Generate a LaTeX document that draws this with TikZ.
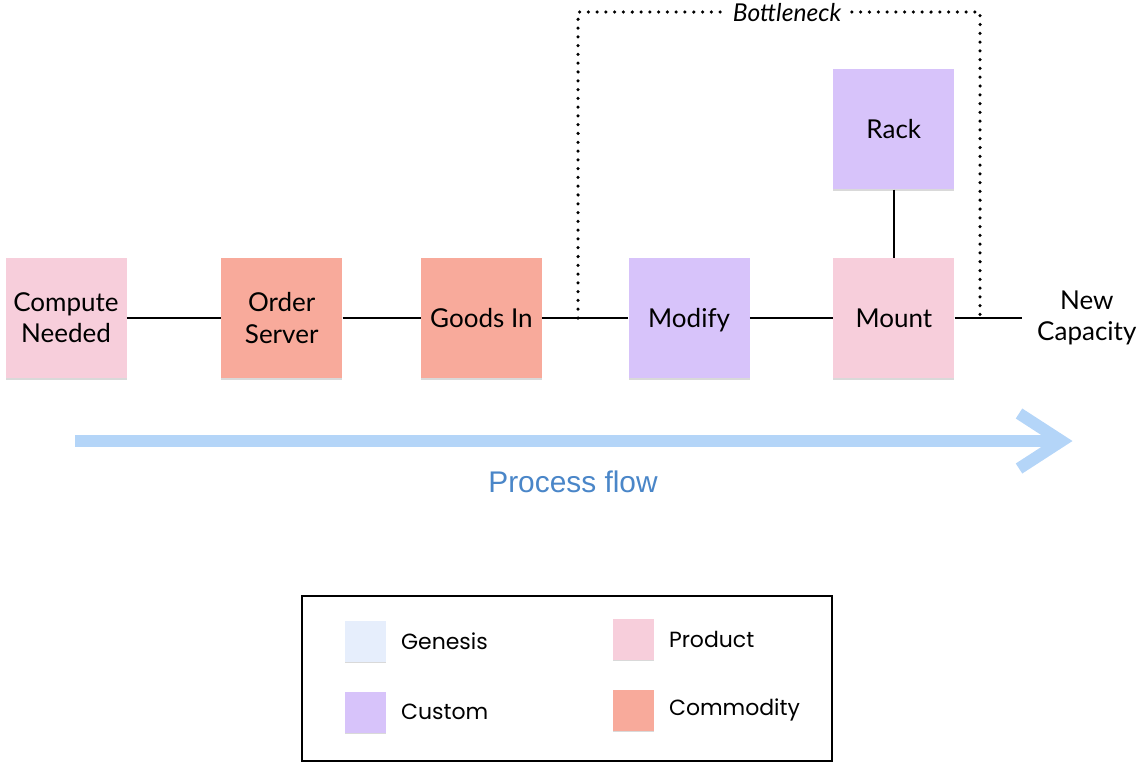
\documentclass[tikz,border=0pt]{standalone}
\usepackage{fontspec}
\setmainfont{Lato}
\newfontfamily\flowfont{Liberation Sans}
\newfontfamily\legendfont{Poppins}
\usepackage{tikz}
\usetikzlibrary{positioning,arrows.meta,shadows}
\definecolor{productPink}{RGB}{247,206,219}
\definecolor{commodityRed}{RGB}{248,170,155}
\definecolor{customPurple}{RGB}{215,195,250}
\definecolor{genesisBlue}{RGB}{230,238,252}
\definecolor{flowBlue}{RGB}{180,213,248}
\definecolor{flowText}{RGB}{74,134,200}

\begin{document}
\begin{tikzpicture}[every node/.style={align=center},
        stage/.style={minimum width=2.42cm, minimum height=2.4cm, inner sep=0pt,
            font=\fontsize{14.8}{17.8}\selectfont,
            drop shadow={shadow xshift=0pt, shadow yshift=-1pt, opacity=0.3}},
        key/.style={minimum width=0.82cm, minimum height=0.82cm, inner sep=0pt,
            drop shadow={shadow xshift=0pt, shadow yshift=-0.8pt, opacity=0.3}},
        keylabel/.style={font=\legendfont\fontsize{12.5}{15}\selectfont},
        link/.style={line width=0.8pt},
        bottleneck/.style={line width=2pt, dash pattern=on 0pt off 5pt, line cap=round}]
        \useasboundingbox (0,0) rectangle (22.78,-15.26);

        % value chain
        \node[stage, fill=productPink] (compute) at (1.32,-6.36) {Compute\\Needed};
        \node[stage, fill=commodityRed, right=1.88cm of compute] (order) {Order\\Server};
        \node[stage, fill=commodityRed, right=1.56cm of order] (goods) {Goods In};
        \node[stage, fill=customPurple, text depth=0pt, right=1.72cm of goods] (modify) {Modify};
        \node[stage, fill=productPink, right=1.66cm of modify] (mount) {Mount};
        \node[stage, fill=customPurple, above=1.36cm of mount] (rack) {Rack};
        \coordinate (capEnd) at (20.44,-6.36);
        \node[anchor=west, font=\fontsize{14.8}{17.8}\selectfont] (newcap) at (20.62,-6.36) {New\\Capacity};

        \draw[link] (compute) -- (order);
        \draw[link] (order) -- (goods);
        \draw[link] (goods) -- (modify);
        \draw[link] (modify) -- (mount);
        \draw[link] (rack) -- (mount);
        \draw[link] (mount) -- (capEnd);

        % bottleneck bracket
        \coordinate (bnLeft) at (11.56,-6.36);
        \coordinate (bnRight) at (19.6,-6.36);
        \draw[bottleneck] (bnLeft) -- (11.56,-0.24) -- (19.6,-0.24) -- (bnRight);
        \node[fill=white, inner sep=4pt, font=\itshape\fontsize{14}{16}\selectfont] (bnlabel) at (15.74,-0.26) {Bottleneck};

        % process flow
        \coordinate (flowStart) at (1.5,-8.82);
        \coordinate (flowEnd) at (21.45,-8.82);
        \draw[flowBlue, line width=6.8pt, -{Straight Barb[length=0.85cm, width=1.1cm]}] (flowStart) -- (flowEnd);
        \node[text=flowText, font=\flowfont\fontsize{17}{20}\selectfont] (flowlabel) at (11.46,-9.64) {Process flow};

        % legend
        \draw[line width=0.85pt] (6.04,-11.92) rectangle (16.64,-15.22);
        \node[key, fill=genesisBlue] (kgen) at (7.3,-12.82) {};
        \node[key, fill=productPink] (kprod) at (12.66,-12.78) {};
        \node[key, fill=customPurple] (kcust) at (7.3,-14.24) {};
        \node[key, fill=commodityRed] (kcomm) at (12.66,-14.2) {};
        \node[keylabel, right=0.18cm of kgen] {Genesis};
        \node[keylabel, right=0.18cm of kprod] {Product};
        \node[keylabel, right=0.18cm of kcust] {Custom};
        \node[keylabel, right=0.18cm of kcomm] {Commodity};
    \end{tikzpicture}
\end{document}
